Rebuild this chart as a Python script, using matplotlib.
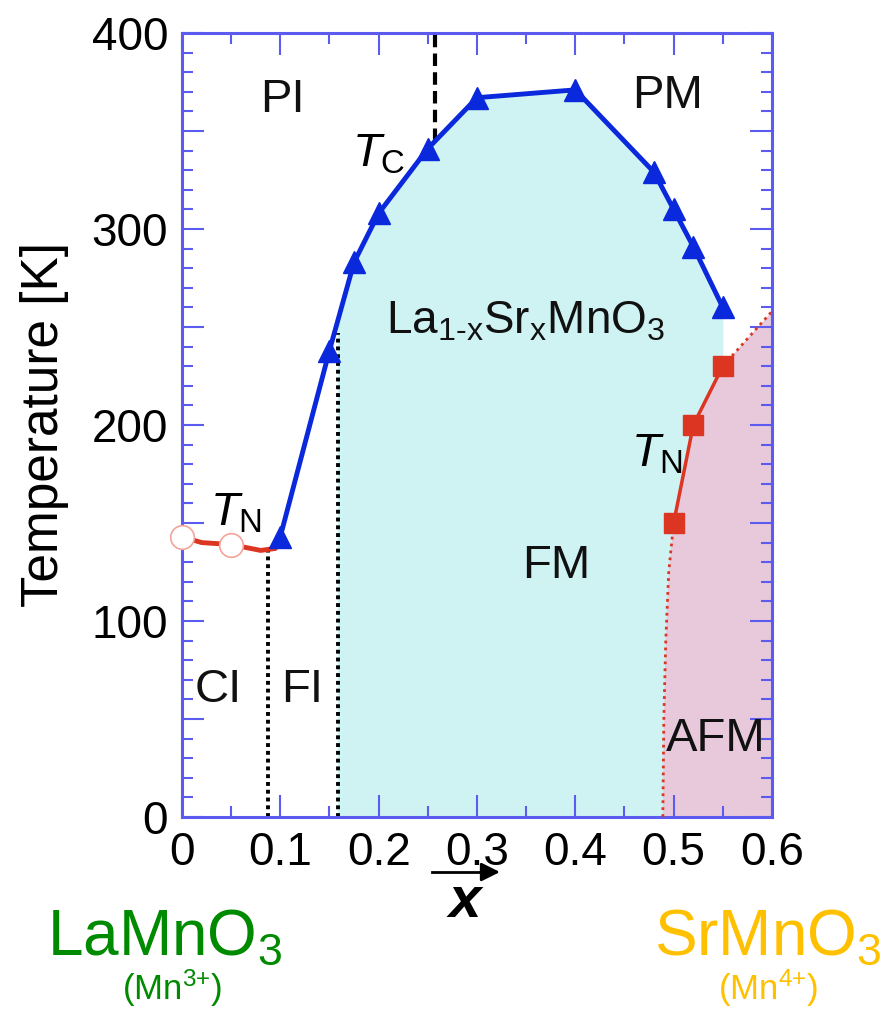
import numpy as np
import matplotlib.pyplot as plt
from matplotlib.ticker import MultipleLocator, FuncFormatter
from matplotlib.patches import Rectangle

plt.rcParams['font.family'] = ['Liberation Sans', 'DejaVu Sans']
plt.rcParams['mathtext.fontset'] = 'custom'
plt.rcParams['mathtext.rm'] = 'Liberation Sans'
plt.rcParams['mathtext.it'] = 'Liberation Sans:italic'
plt.rcParams['mathtext.bf'] = 'Liberation Sans:bold'

# Curie temperature T_C (blue triangles)
tc_x = [0.10, 0.15, 0.175, 0.20, 0.25, 0.30, 0.40, 0.48, 0.50, 0.52, 0.55]
tc_t = [143, 238, 283, 308, 341, 367, 371, 329, 310, 291, 260]

# Neel temperature, LaMnO3 side (red line, open circles)
tn_left_x = [0.0, 0.02, 0.05, 0.08, 0.095, 0.098]
tn_left_t = [143, 140, 139, 136, 137, 141]
circ_x = [0.0, 0.05]
circ_t = [143, 139]

# Neel temperature, SrMnO3 side (red squares)
tn_right_x = [0.50, 0.52, 0.55]
tn_right_t = [150, 200, 230]
afm_low_x = [0.489, 0.490, 0.492, 0.495, 0.50]
afm_low_t = [0, 50, 90, 125, 150]
afm_up_x = [0.55, 0.60]
afm_up_t = [230, 258]

# phase boundaries
ci_fi_x, ci_fi_top = 0.087, 137
fi_fm_x, fi_fm_top = 0.159, 247
dash_x, dash_bottom = 0.257, 345

labels = [("PI", 0.102, 366), ("PM", 0.494, 368), ("FM", 0.381, 128),
          ("CI", 0.037, 65), ("FI", 0.122, 65), ("AFM", 0.543, 40)]

blue = "#0a28dc"
red = "#dc3522"
cyan = "#cff2f3"
pink = "#e8c9dc"
axcol = "#5b5bf0"

fig = plt.figure(figsize=(8.85, 10.16), dpi=100)
ax = fig.add_axes([0.2056, 0.1959, 0.6667, 0.7716])

# shaded regions
fm = ax.fill_between(tc_x, 0, tc_t, color=cyan, lw=0, zorder=1)
fm.set_clip_path(Rectangle((fi_fm_x, 0), 1, 400, transform=ax.transData))
afm_x = afm_low_x + tn_right_x[1:] + afm_up_x[1:] + [0.6]
afm_t = afm_low_t + tn_right_t[1:] + afm_up_t[1:] + [0]
ax.fill(afm_x, afm_t, color=pink, lw=0, zorder=1.5)

# boundaries
ax.plot([ci_fi_x, ci_fi_x], [0, ci_fi_top], ls=(0, (1, 1)), color="black", lw=2.8, zorder=2)
ax.plot([fi_fm_x, fi_fm_x], [0, fi_fm_top], ls=(0, (1, 1)), color="black", lw=2.8, zorder=2)
ax.plot([dash_x, dash_x], [dash_bottom, 400], ls=(0, (3, 1.5)), color="black", lw=3, zorder=2)

ax.plot(afm_low_x, afm_low_t, ls=(0, (1, 1.5)), color=red, lw=2, zorder=3)
ax.plot(afm_up_x, afm_up_t, ls=(0, (1, 1.5)), color=red, lw=2, zorder=3)
ax.plot(tn_right_x, tn_right_t, color=red, lw=2.5, marker="s", ms=14, zorder=4)

ax.plot(tn_left_x, tn_left_t, color=red, lw=3.5, zorder=3)
ax.plot(circ_x, circ_t, ls="none", marker="o", ms=17, mfc="white",
        mec="#f4a49c", mew=1.2, zorder=5, clip_on=False)

ax.plot(tc_x, tc_t, color=blue, lw=3.5, marker="^", ms=16, zorder=4)

# text labels
for s, x, y in labels:
    ax.text(x, y, s, fontsize=34, ha="center", va="center", color="#111111", zorder=6)
ax.text(0.2, 338, r"$T_{\mathrm{C}}$", fontsize=34, ha="center", va="center", zorder=6)
ax.text(0.055, 155, r"$T_{\mathrm{N}}$", fontsize=34, ha="center", va="center", zorder=6)
ax.text(0.483, 185, r"$T_{\mathrm{N}}$", fontsize=34, ha="center", va="center", zorder=6)
ax.text(0.35, 253, r"La$_{\text{1-x}}$Sr$_{\mathrm{x}}$MnO$_3$", fontsize=33, ha="center",
        va="center", color="#111111", zorder=6)

# axes styling
ax.set_xlim(0, 0.6)
ax.set_ylim(0, 400)
ax.xaxis.set_major_locator(MultipleLocator(0.1))
ax.xaxis.set_minor_locator(MultipleLocator(0.05))
ax.yaxis.set_major_locator(MultipleLocator(50))
ax.yaxis.set_minor_locator(MultipleLocator(10))
ax.xaxis.set_major_formatter(FuncFormatter(lambda v, p: "0" if abs(v) < 1e-9 else "%.1f" % v))
ax.yaxis.set_major_formatter(FuncFormatter(lambda v, p: "%d" % v if int(round(v)) % 100 == 0 else ""))
ax.tick_params(which="both", direction="in", top=True, right=True, color=axcol,
               labelsize=33, width=1.5)
ax.tick_params(which="major", length=16, pad=10)
ax.tick_params(which="minor", length=8)
for sp in ax.spines.values():
    sp.set_color(axcol)
    sp.set_linewidth(2.2)
ax.set_ylabel("Temperature [K]", fontsize=37, labelpad=16)

# x label with arrow
fig.text(0.525, 0.112, "x", fontsize=42, style="italic", weight="bold",
         ha="center", va="center")
fig.add_artist(plt.Line2D([0.488, 0.55], [0.1417, 0.1417], color="black", lw=2))
ax.annotate("", xy=(0.568, 0.1417), xytext=(0.54, 0.1417), xycoords="figure fraction",
            textcoords="figure fraction",
            arrowprops=dict(arrowstyle="-|>", color="black", lw=2, mutation_scale=28))

# end members
green = "#008a00"
gold = "#ffc000"
fig.text(0.186, 0.077, r"LaMnO$_3$", fontsize=46, color=green, ha="center", va="center")
fig.text(0.194, 0.027, r"(Mn$^{\text{3+}}$)", fontsize=25, color=green, ha="center", va="center")
fig.text(0.868, 0.077, r"SrMnO$_3$", fontsize=46, color=gold, ha="center", va="center")
fig.text(0.868, 0.027, r"(Mn$^{\text{4+}}$)", fontsize=25, color=gold, ha="center", va="center")

fig.savefig("out.png", dpi=100)
